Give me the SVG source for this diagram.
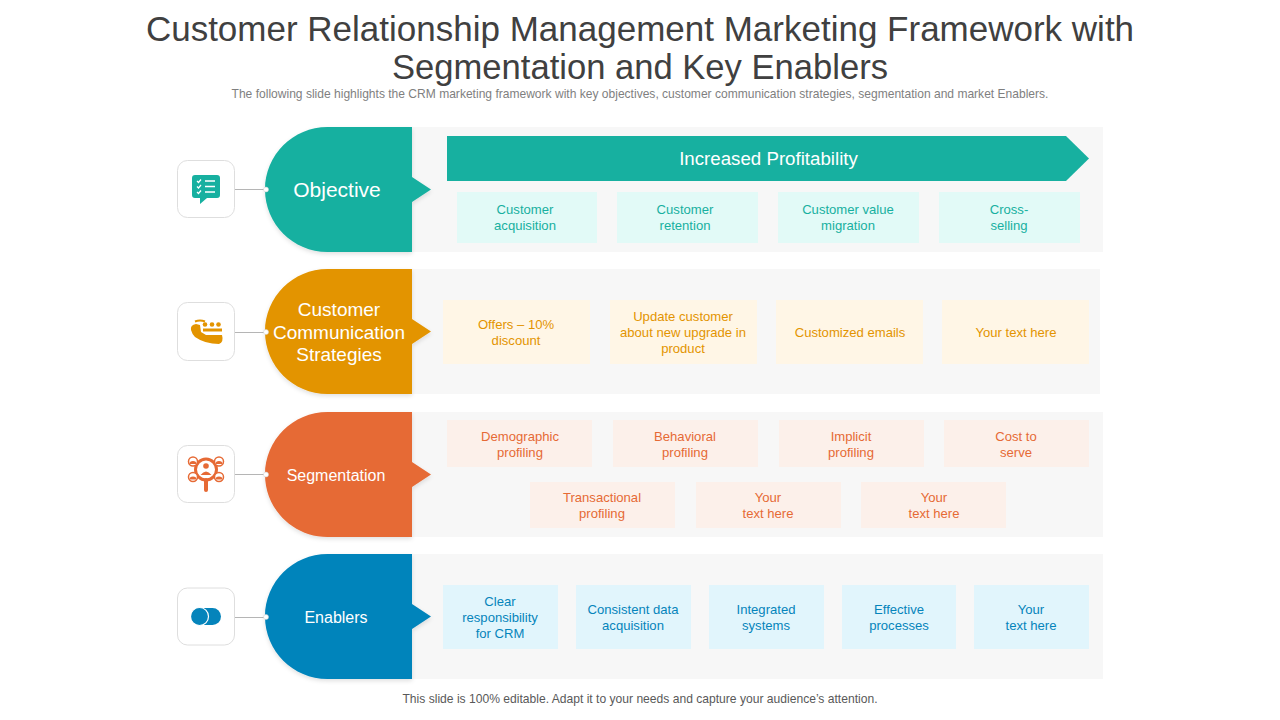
<svg xmlns="http://www.w3.org/2000/svg" width="1280" height="720" viewBox="0 0 1280 720">
<style>
text{font-family:"Liberation Sans",Arial,sans-serif;text-anchor:middle}
.title{font-size:35px;fill:#404040}
.title2{font-size:34.600px;fill:#404040}
.sub{font-size:12.060px;fill:#7f7f7f}
.foot{font-size:12.100px;fill:#595959}
.panel{fill:#f7f7f7}
.ic{fill:#fff;stroke:#dedede;stroke-width:1}
.lk{stroke:#b5b5b5;stroke-width:1;fill:none}
.dot{fill:#fff;stroke:#cfcfcf;stroke-width:.5}
.head{fill:#fff;font-size:21px}
.mid{fill:#fff;font-size:16px}
.cc{fill:#fff;font-size:19px}
.t text{font-size:13.100px}
.teal{fill:#17b0a0}.orange{fill:#e39400}.red{fill:#e66a35}.blue{fill:#0584bb}
.bt{fill:#e2faf7}.bo{fill:#fff6e6}.br{fill:#fcf0ea}.bb{fill:#e1f5fc}
</style>
<defs>
<path id="tab" d="M412 0H327.5C293 0 265 28 265 62.500C265 97 293 125 327.500 125H412V75L431 62.500L412 50Z"/>
<filter id="sh" x="-10%" y="-10%" width="120%" height="125%"><feDropShadow dx="0" dy="2" stdDeviation="2" flood-color="#000" flood-opacity=".12"/></filter>
</defs>
<g id="heading">
<text class="title" x="640" y="41">Customer Relationship Management Marketing Framework with</text>
<text class="title2" x="640" y="79">Segmentation and Key Enablers</text>
<text class="sub" x="640" y="98">The following slide highlights the CRM marketing framework with key objectives, customer communication strategies, segmentation and market Enablers.</text>
</g>
<g id="connectors">
<path class="lk" d="M235 189.500H266M235 332.500H266M235 474.500H266M235 617.500H266"/>
</g>
<g id="objective">
<rect class="panel" x="412" y="127" width="691" height="125"/>
<use href="#tab" y="127" class="teal" filter="url(#sh)"/>
<circle class="dot" cx="266" cy="189.500" r="2.500"/>
<text class="head" x="337" y="197">Objective</text>
<rect class="ic" x="177.500" y="160.500" width="57" height="57" rx="10"/>
<path class="teal" d="M195 175H217Q220 175 220 178V195Q220 198 217 198H207L200 204V198H195Q192 198 192 195V178Q192 175 195 175Z"/>
<path d="M205 181H215M205 186.500H215M205 192H215" stroke="#fff" stroke-width="1.500"/>
<path d="M197 181l1.500 1.500l2.500-3M197 186.500l1.500 1.500l2.500-3M197 192l1.500 1.500l2.500-3" stroke="#fff" stroke-width="1.200" fill="none"/>
</g>
<g id="increased-profitability">
<path class="teal" d="M447 136H1066L1089 158.500L1066 181H447Z"/>
<text x="768.500" y="165" font-size="18.700" fill="#fff">Increased Profitability</text>
</g>
<g id="objective-items" class="t">
<rect class="bt" x="457" y="192" width="140" height="51"/><rect class="bt" x="617" y="192" width="141" height="51"/><rect class="bt" x="778" y="192" width="141" height="51"/><rect class="bt" x="939" y="192" width="141" height="51"/>
<text class="teal" x="525" y="214">Customer</text><text class="teal" x="525" y="230">acquisition</text>
<text class="teal" x="685" y="214">Customer</text><text class="teal" x="685" y="230">retention</text>
<text class="teal" x="848" y="214">Customer value</text><text class="teal" x="848" y="230">migration</text>
<text class="teal" x="1009" y="214">Cross-</text><text class="teal" x="1009" y="230">selling</text>
</g>
<g id="communication">
<rect class="panel" x="412" y="269" width="688" height="125"/>
<use href="#tab" y="269" class="orange" filter="url(#sh)"/>
<circle class="dot" cx="266" cy="332" r="2.500"/>
<text class="cc" x="339" y="316">Customer</text>
<text class="cc" x="339" y="339">Communication</text>
<text class="cc" x="339" y="361">Strategies</text>
<rect class="ic" x="177.500" y="302.500" width="57" height="58" rx="10"/>
<path class="orange" d="M191 330Q190 325 196 324L200 325L201 332L206 335L222 335Q224 342 219 344Q205 344 195 337Q192 334 191 330Z"/>
<path d="M195 321.500q5-2 10 0" stroke="#e39400" stroke-width="2" fill="none"/>
<g class="orange"><circle cx="205" cy="324.500" r="2.300"/><circle cx="212" cy="324.500" r="2.300"/><circle cx="218.500" cy="324.500" r="2.300"/></g>
<path d="M203 330H222" stroke="#e39400" stroke-width="3"/>
</g>
<g id="communication-items" class="t">
<rect class="bo" x="443" y="300" width="147" height="64"/><rect class="bo" x="610" y="300" width="147" height="64"/><rect class="bo" x="776" y="300" width="147" height="64"/><rect class="bo" x="942" y="300" width="147" height="64"/>
<text class="orange" x="516" y="329">Offers – 10%</text><text class="orange" x="516" y="345">discount</text>
<text class="orange" x="683" y="321">Update customer</text><text class="orange" x="683" y="337">about new upgrade in</text><text class="orange" x="683" y="353">product</text>
<text class="orange" x="850" y="337">Customized emails</text>
<text class="orange" x="1016" y="337">Your text here</text>
</g>
<g id="segmentation">
<rect class="panel" x="412" y="412" width="691" height="125"/>
<use href="#tab" y="412" class="red" filter="url(#sh)"/>
<circle class="dot" cx="266" cy="474.500" r="2.500"/>
<text class="mid" x="336" y="481">Segmentation</text>
<rect class="ic" x="177.500" y="445.500" width="57" height="57" rx="10"/>
<path d="M193 462L219 477M219 462L193 477" stroke="#e66a35" stroke-width="1.500"/>
<circle cx="206" cy="469.500" r="10.500" fill="#fff" stroke="#e66a35" stroke-width="3"/>
<path d="M206 480V490" stroke="#e66a35" stroke-width="4" stroke-linecap="round"/>
<circle class="red" cx="206" cy="466" r="2.800"/><path class="red" d="M200.500 475q5.500-7 11 0Z"/>
<g fill="#fff" stroke="#e66a35" stroke-width="1.500"><circle cx="193" cy="461.500" r="4.500"/><circle cx="219" cy="461.500" r="4.500"/><circle cx="193" cy="477" r="4.500"/><circle cx="219" cy="477" r="4.500"/></g>
<g class="red"><path d="M189.500 464a3.500 3 0 0 1 7 0ZM215.500 464a3.500 3 0 0 1 7 0ZM189.500 479.500a3.500 3 0 0 1 7 0ZM215.500 479.500a3.500 3 0 0 1 7 0Z"/></g>
</g>
<g id="segmentation-items" class="t">
<rect class="br" x="447" y="420" width="145" height="47"/><rect class="br" x="613" y="420" width="145" height="47"/><rect class="br" x="779" y="420" width="145" height="47"/><rect class="br" x="944" y="420" width="145" height="47"/>
<rect class="br" x="530" y="482" width="145" height="46"/><rect class="br" x="696" y="482" width="145" height="46"/><rect class="br" x="861" y="482" width="145" height="46"/>
<text class="red" x="520" y="441">Demographic</text><text class="red" x="520" y="457">profiling</text>
<text class="red" x="685" y="441">Behavioral</text><text class="red" x="685" y="457">profiling</text>
<text class="red" x="851" y="441">Implicit</text><text class="red" x="851" y="457">profiling</text>
<text class="red" x="1016" y="441">Cost to</text><text class="red" x="1016" y="457">serve</text>
<text class="red" x="602" y="502">Transactional</text><text class="red" x="602" y="518">profiling</text>
<text class="red" x="768" y="502">Your</text><text class="red" x="768" y="518">text here</text>
<text class="red" x="934" y="502">Your</text><text class="red" x="934" y="518">text here</text>
</g>
<g id="enablers">
<rect class="panel" x="412" y="554" width="691" height="125"/>
<use href="#tab" y="554" class="blue" filter="url(#sh)"/>
<circle class="dot" cx="266" cy="617" r="2.500"/>
<text class="mid" x="336" y="623">Enablers</text>
<rect class="ic" x="177.500" y="588" width="57" height="57" rx="10"/>
<rect class="blue" x="191" y="608" width="30" height="17" rx="8.500"/>
<circle class="blue" cx="199.500" cy="616.500" r="9" stroke="#fff" stroke-width="1.200"/>
</g>
<g id="enablers-items" class="t">
<rect class="bb" x="443" y="585" width="115" height="64"/><rect class="bb" x="576" y="585" width="115" height="64"/><rect class="bb" x="709" y="585" width="115" height="64"/><rect class="bb" x="842" y="585" width="114" height="64"/><rect class="bb" x="974" y="585" width="115" height="64"/>
<text class="blue" x="500" y="606">Clear</text><text class="blue" x="500" y="622">responsibility</text><text class="blue" x="500" y="638">for CRM</text>
<text class="blue" x="633" y="614">Consistent data</text><text class="blue" x="633" y="630">acquisition</text>
<text class="blue" x="766" y="614">Integrated</text><text class="blue" x="766" y="630">systems</text>
<text class="blue" x="899" y="614">Effective</text><text class="blue" x="899" y="630">processes</text>
<text class="blue" x="1031" y="614">Your</text><text class="blue" x="1031" y="630">text here</text>
</g>
<g id="footer"><text class="foot" x="640" y="703">This slide is 100% editable. Adapt it to your needs and capture your audience’s attention.</text></g>
</svg>
